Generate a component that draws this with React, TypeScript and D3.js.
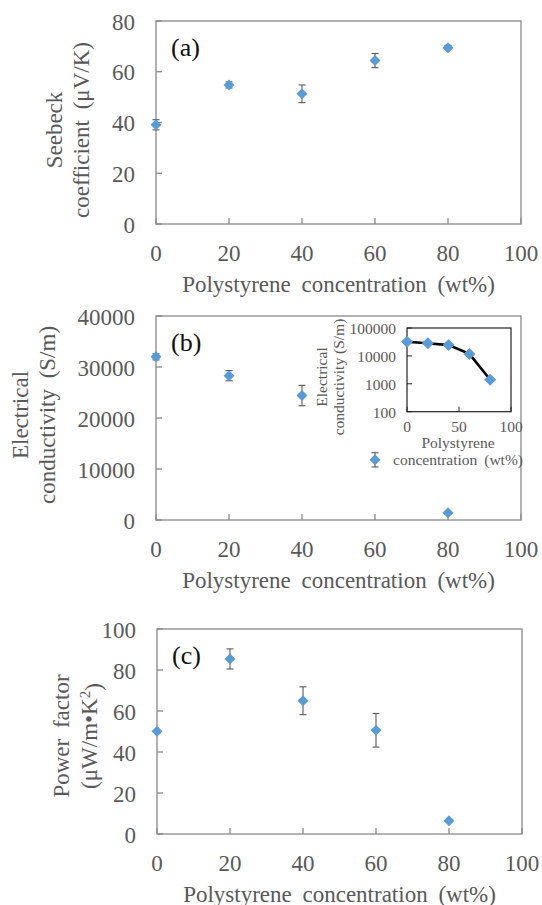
import * as d3 from "d3";
import { useEffect, useRef } from "react";

// polystyrene concentration (wt%)
const concentration = [0, 20, 40, 60, 80];

// (a) Seebeck coefficient (μV/K)
const seebeck = [39.1, 54.8, 51.3, 64.4, 69.5];
const seebeckErr = [2.0, 1.2, 3.5, 2.8, 0.8];

// (b) electrical conductivity (S/m)
const conductivity = [32000, 28300, 24400, 11800, 1400];
const conductivityErr = [600, 1000, 2000, 1400, 300];

// (c) power factor (μW/m·K²)
const powerFactor = [50.1, 85.4, 65.0, 50.6, 6.5];
const powerFactorErr = [0, 4.9, 6.8, 8.2, 0.5];

const xTicks = [0, 20, 40, 60, 80, 100];
const seebeckTicks = [0, 20, 40, 60, 80];
const conductivityTicks = [0, 10000, 20000, 30000, 40000];
const powerFactorTicks = [0, 20, 40, 60, 80, 100];
const insetXTicks = [0, 50, 100];
const insetYTicks = [100, 1000, 10000, 100000];

const FONT = "'Liberation Serif', 'Times New Roman', serif";
const TEXT = "#595959";
const AXIS = "#898989";
const BLUE = "#5B9BD5";
const ERR = "#5a5a5a";

const diamond = (r) => `M0,${-r}L${r},0L0,${r}L${-r},0Z`;

function drawPanel(svg, p) {
  const x = d3.scaleLinear().domain([0, 100]).range([p.left, p.right]);
  const y = d3.scaleLinear().domain(p.yDomain).range([p.bottom, p.top]);
  const g = svg.append("g").attr("font-family", FONT);

  g.append("rect")
    .attr("x", p.left)
    .attr("y", p.top)
    .attr("width", p.right - p.left)
    .attr("height", p.bottom - p.top)
    .attr("fill", "none")
    .attr("stroke", AXIS)
    .attr("stroke-width", 1.3);

  // inward ticks
  g.append("g")
    .selectAll("line")
    .data(p.yTicks)
    .join("line")
    .attr("x1", p.left)
    .attr("x2", p.left + 6)
    .attr("y1", (d) => y(d))
    .attr("y2", (d) => y(d))
    .attr("stroke", AXIS)
    .attr("stroke-width", 1.3);

  g.append("g")
    .selectAll("line")
    .data(xTicks)
    .join("line")
    .attr("x1", (d) => x(d))
    .attr("x2", (d) => x(d))
    .attr("y1", p.bottom)
    .attr("y2", p.bottom - 6)
    .attr("stroke", AXIS)
    .attr("stroke-width", 1.3);

  g.append("g")
    .attr("font-size", 23)
    .attr("fill", TEXT)
    .attr("text-anchor", "end")
    .selectAll("text")
    .data(p.yTicks)
    .join("text")
    .attr("x", p.left - 21)
    .attr("y", (d) => y(d))
    .attr("dy", "0.38em")
    .text((d) => d);

  g.append("g")
    .attr("font-size", 23)
    .attr("fill", TEXT)
    .attr("text-anchor", "middle")
    .selectAll("text")
    .data(xTicks)
    .join("text")
    .attr("x", (d) => x(d))
    .attr("y", p.bottom + 37)
    .text((d) => d);

  g.append("text")
    .attr("x", (p.left + p.right) / 2)
    .attr("y", p.bottom + 68)
    .attr("text-anchor", "middle")
    .attr("font-size", 23)
    .attr("word-spacing", 5)
    .attr("fill", TEXT)
    .text("Polystyrene concentration (wt%)");

  // rotated y title, two lines
  p.yTitle.forEach((line, i) => {
    const t = g
      .append("text")
      .attr("transform", `translate(${p.titleX[i]},${p.titleY}) rotate(-90)`)
      .attr("text-anchor", "middle")
      .attr("font-size", 23)
      .attr("word-spacing", 5)
      .attr("fill", TEXT);
    if (typeof line === "string") t.text(line);
    else line(t);
  });

  g.append("text")
    .attr("x", p.left + 15)
    .attr("y", p.top + 35)
    .attr("font-size", 26)
    .attr("fill", "#111")
    .text(p.label);

  const pts = concentration.map((c, i) => ({ c, v: p.values[i], e: p.errs[i] }));

  const eb = g
    .append("g")
    .attr("stroke", ERR)
    .attr("stroke-width", 1.1)
    .selectAll("g")
    .data(pts.filter((d) => d.e > 0))
    .join("g");
  eb.append("line")
    .attr("x1", (d) => x(d.c))
    .attr("x2", (d) => x(d.c))
    .attr("y1", (d) => y(d.v - d.e))
    .attr("y2", (d) => y(d.v + d.e));
  [-1, 1].forEach((s) =>
    eb
      .append("line")
      .attr("x1", (d) => x(d.c) - 3.5)
      .attr("x2", (d) => x(d.c) + 3.5)
      .attr("y1", (d) => y(d.v + s * d.e))
      .attr("y2", (d) => y(d.v + s * d.e))
  );

  g.append("g")
    .selectAll("path")
    .data(pts)
    .join("path")
    .attr("transform", (d) => `translate(${x(d.c)},${y(d.v)})`)
    .attr("d", diamond(5.5))
    .attr("fill", BLUE);

  return g;
}

function drawInset(svg) {
  const box = { left: 407, right: 511, top: 328, bottom: 411.7 };
  const x = d3.scaleLinear().domain([0, 100]).range([box.left, box.right]);
  const y = d3.scaleLog().domain([100, 100000]).range([box.bottom, box.top]);
  const g = svg.append("g").attr("font-family", FONT);

  g.append("rect")
    .attr("x", box.left)
    .attr("y", box.top)
    .attr("width", box.right - box.left)
    .attr("height", box.bottom - box.top)
    .attr("fill", "none")
    .attr("stroke", "#222")
    .attr("stroke-width", 1.2);

  g.append("g")
    .selectAll("line")
    .data(insetYTicks)
    .join("line")
    .attr("x1", box.left)
    .attr("x2", box.left + 5)
    .attr("y1", (d) => y(d))
    .attr("y2", (d) => y(d))
    .attr("stroke", "#222");
  g.append("g")
    .selectAll("line")
    .data(insetXTicks)
    .join("line")
    .attr("x1", (d) => x(d))
    .attr("x2", (d) => x(d))
    .attr("y1", box.bottom)
    .attr("y2", box.bottom - 5)
    .attr("stroke", "#222");

  g.append("g")
    .attr("font-size", 15.5)
    .attr("fill", TEXT)
    .attr("text-anchor", "end")
    .selectAll("text")
    .data(insetYTicks)
    .join("text")
    .attr("x", box.left - 11)
    .attr("y", (d) => y(d))
    .attr("dy", "0.38em")
    .text((d) => d);

  g.append("g")
    .attr("font-size", 15.5)
    .attr("fill", TEXT)
    .attr("text-anchor", "middle")
    .selectAll("text")
    .data(insetXTicks)
    .join("text")
    .attr("x", (d) => x(d))
    .attr("y", box.bottom + 20.5)
    .text((d) => d);

  ["Polystyrene", "concentration (wt%)"].forEach((s, i) =>
    g
      .append("text")
      .attr("x", 458)
      .attr("y", [448, 465][i])
      .attr("text-anchor", "middle")
      .attr("font-size", 15.5)
      .attr("word-spacing", 3)
      .attr("fill", TEXT)
      .text(s)
  );

  ["Electrical", "conductivity (S/m)"].forEach((s, i) =>
    g
      .append("text")
      .attr("transform", `translate(${[327, 343.5][i]},377) rotate(-90)`)
      .attr("text-anchor", "middle")
      .attr("font-size", 15.5)
      .attr("fill", TEXT)
      .text(s)
  );

  const pts = concentration.map((c, i) => ({ c, v: conductivity[i] }));
  g.append("path")
    .datum(pts)
    .attr("fill", "none")
    .attr("stroke", "#000")
    .attr("stroke-width", 2.6)
    .attr("d", d3.line().x((d) => x(d.c)).y((d) => y(d.v)));

  g.append("g")
    .selectAll("path")
    .data(pts)
    .join("path")
    .attr("transform", (d) => `translate(${x(d.c)},${y(d.v)})`)
    .attr("d", diamond(6))
    .attr("fill", BLUE);
}

export default function App() {
  const ref = useRef(null);

  useEffect(() => {
    const svg = d3.select(ref.current);
    svg.selectAll("*").remove();

    drawPanel(svg, {
      left: 156, right: 521, top: 21, bottom: 224,
      yDomain: [0, 80], yTicks: seebeckTicks,
      values: seebeck, errs: seebeckErr, label: "(a)",
      yTitle: ["Seebeck", "coefficient (μV/K)"],
      titleX: [62, 89], titleY: 130,
    });

    drawPanel(svg, {
      left: 156, right: 521, top: 316, bottom: 520,
      yDomain: [0, 40000], yTicks: conductivityTicks,
      values: conductivity, errs: conductivityErr, label: "(b)",
      yTitle: ["Electrical", "conductivity (S/m)"],
      titleX: [27.5, 55], titleY: 415,
    });

    drawPanel(svg, {
      left: 157, right: 522, top: 629, bottom: 834,
      yDomain: [0, 100], yTicks: powerFactorTicks,
      values: powerFactor, errs: powerFactorErr, label: "(c)",
      yTitle: [
        "Power factor",
        (t) => {
          t.append("tspan").text("(μW/m•K");
          t.append("tspan").attr("dy", "-0.45em").attr("font-size", 15).text("2");
          t.append("tspan").attr("dy", "0.45em").text(")");
        },
      ],
      titleX: [68.5, 97], titleY: 736,
    });

    drawInset(svg);
  }, []);

  return (
    <svg
      ref={ref}
      width={542}
      height={905}
      style={{ position: "absolute", left: 0, top: 0, background: "#fff" }}
    />
  );
}
